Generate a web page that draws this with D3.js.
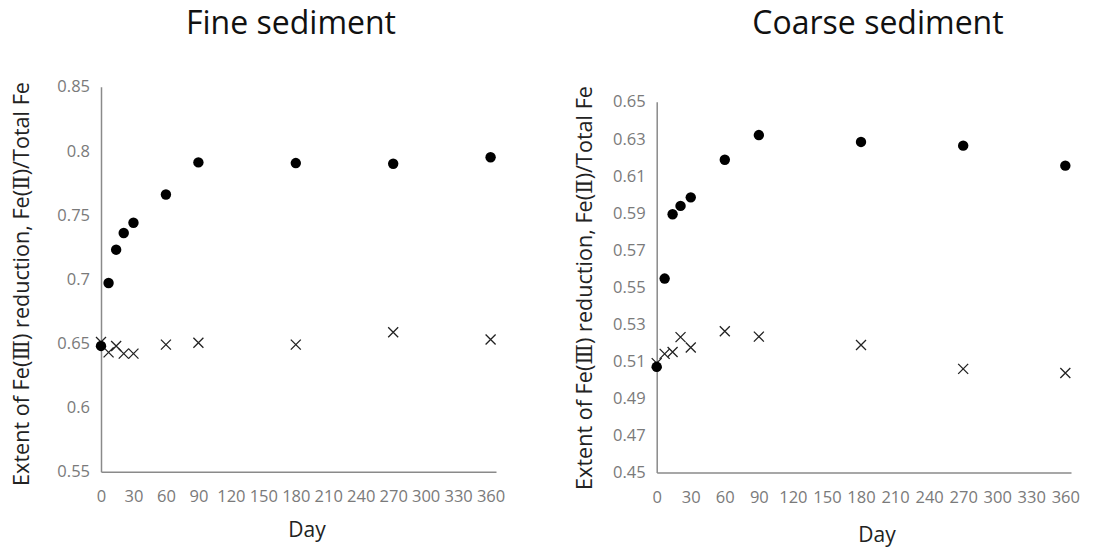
<!DOCTYPE html>
<html>
<head>
<meta charset="utf-8">
<script src="https://cdn.jsdelivr.net/npm/d3@7"></script>
<style>
  html, body { margin: 0; padding: 0; background: #fff; }
  svg { display: block; }
  text { font-family: "Open Sans", "Noto Sans", "Noto Sans CJK KR", sans-serif; }
  tspan.roman { font-family: "DejaVu Serif", "Liberation Serif", serif; }
</style>
</head>
<body>
<svg id="chart" width="1119" height="550"></svg>
<script>
// Sampling days (shared by both panels)
const days = [0, 7, 14, 21, 30, 60, 90, 180, 270, 360];
const dayTicks = [0, 30, 60, 90, 120, 150, 180, 210, 240, 270, 300, 330, 360];

// Fine sediment: Fe(II)/Total Fe
const fineCircle = [0.648, 0.697, 0.723, 0.736, 0.744, 0.766, 0.791, 0.7905, 0.790, 0.795];
const fineCross  = [0.651, 0.643, 0.648, 0.642, 0.642, 0.649, 0.6505, 0.649, 0.6586, 0.653];
const fineTicks  = [0.55, 0.6, 0.65, 0.7, 0.75, 0.8, 0.85];

// Coarse sediment: Fe(II)/Total Fe
const coarseCircle = [0.507, 0.5546, 0.5893, 0.5938, 0.5984, 0.6187, 0.632, 0.6283, 0.6263, 0.6155];
const coarseCross  = [0.509, 0.514, 0.515, 0.523, 0.5174, 0.5262, 0.5233, 0.5188, 0.5059, 0.5037];
const coarseTicks  = [0.45, 0.47, 0.49, 0.51, 0.53, 0.55, 0.57, 0.59, 0.61, 0.63, 0.65];

// Y-axis title pieces; the Roman numerals get a serif face
const yTitleParts = [
  ["Extent of Fe(", false], ["\u2162", true], [") reduction, Fe(", false],
  ["\u2161", true], [")/Total Fe", false]
];

const svg = d3.select("#chart");

function panel(cfg) {
  const g = svg.append("g");
  const x = d3.scaleLinear().domain([0, 365]).range([cfg.left, cfg.right]);
  const y = d3.scaleLinear().domain([cfg.yTicks[0], cfg.yTicks[cfg.yTicks.length - 1]])
    .range([cfg.bottom, cfg.top]);

  // Title
  g.append("text")
    .attr("x", cfg.titleX).attr("y", 34)
    .attr("text-anchor", "middle")
    .attr("font-size", 32).attr("fill", "#111")
    .text(cfg.title);

  // Y axis
  const yAxis = d3.axisLeft(y).tickValues(cfg.yTicks).tickSize(0).tickPadding(11)
    .tickFormat(d => String(+d.toFixed(2)));
  const ya = g.append("g").attr("transform", `translate(${cfg.left},0)`).call(yAxis);
  ya.select(".domain").attr("stroke", "#8a8a8a").attr("stroke-width", 1.5);
  ya.selectAll("text").attr("font-size", 16.5).attr("fill", "#7a7a7a")
    .attr("font-family", "\"Open Sans\", sans-serif");

  // X axis
  const xAxis = d3.axisBottom(x).tickValues(dayTicks).tickSize(0).tickPadding(19);
  const xa = g.append("g").attr("transform", `translate(0,${cfg.bottom})`).call(xAxis);
  xa.select(".domain").attr("stroke", "#8a8a8a").attr("stroke-width", 1.5);
  xa.selectAll("text").attr("font-size", 16.5).attr("fill", "#7a7a7a")
    .attr("font-family", "\"Open Sans\", sans-serif");

  // Axis titles
  g.append("text")
    .attr("x", cfg.dayX).attr("y", cfg.dayY)
    .attr("text-anchor", "middle").attr("font-size", 21).attr("fill", "#222")
    .text("Day");
  const yt = g.append("text")
    .attr("transform", `translate(${cfg.yTitleX},${cfg.yTitleY}) rotate(-90)`)
    .attr("text-anchor", "middle").attr("font-size", 21.6).attr("fill", "#222");
  yt.selectAll("tspan").data(yTitleParts).join("tspan")
    .attr("class", d => d[1] ? "roman" : null)
    .text(d => d[0]);

  // Cross markers
  const s = 5;
  g.append("g").selectAll("path")
    .data(days.map((d, i) => [d, cfg.cross[i]]))
    .join("path")
    .attr("d", d => {
      const px = x(d[0]), py = y(d[1]);
      return `M${px - s},${py - s}L${px + s},${py + s}M${px - s},${py + s}L${px + s},${py - s}`;
    })
    .attr("stroke", "#222").attr("stroke-width", 1.3).attr("fill", "none");

  // Circle markers
  g.append("g").selectAll("circle")
    .data(days.map((d, i) => [d, cfg.circle[i]]))
    .join("circle")
    .attr("cx", d => x(d[0])).attr("cy", d => y(d[1]))
    .attr("r", 5.2).attr("fill", "#000");
}

panel({
  title: "Fine sediment", titleX: 291,
  left: 101, right: 496, top: 86.7, bottom: 471.7,
  yTicks: fineTicks, circle: fineCircle, cross: fineCross,
  dayX: 307, dayY: 537, yTitleX: 29, yTitleY: 284
});

panel({
  title: "Coarse sediment", titleX: 878,
  left: 656.7, right: 1071, top: 101.7, bottom: 472.5,
  yTicks: coarseTicks, circle: coarseCircle, cross: coarseCross,
  dayX: 877, dayY: 542, yTitleX: 592, yTitleY: 288
});
</script>
</body>
</html>
